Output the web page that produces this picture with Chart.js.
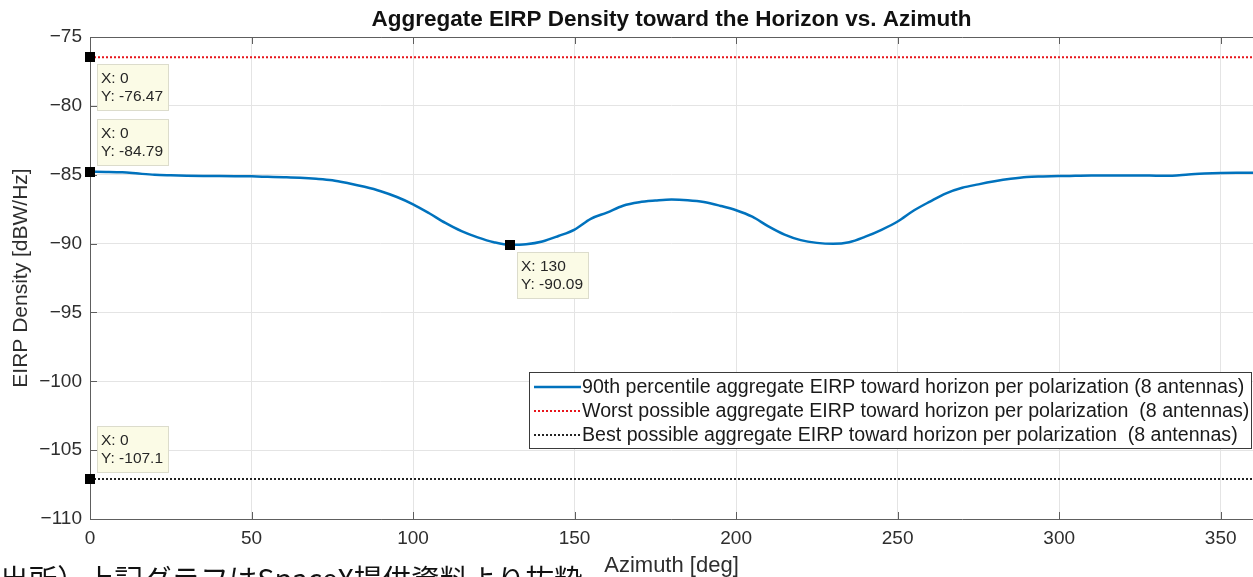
<!DOCTYPE html>
<html>
<head>
<meta charset="utf-8">
<script src="https://cdn.jsdelivr.net/npm/chart.js@4.4.1/dist/chart.umd.min.js"></script>
<style>
  html, body { margin: 0; padding: 0; background: #fff; overflow: hidden; }
  #wrap { position: relative; width: 1253px; height: 577px; }
</style>
</head>
<body>
<div id="wrap"><canvas id="c" width="1253" height="577"></canvas></div>
<script>
// Azimuth samples [deg]
const azimuth = [
  0, 5, 10, 15, 20, 25, 30, 35, 40, 45, 50, 55, 60, 65, 70, 75, 80, 85, 90, 95,
  100, 105, 110, 115, 120, 125, 130, 135, 140, 145, 150, 155, 160, 165, 170, 175,
  180, 185, 190, 195, 200, 205, 210, 215, 220, 225, 230, 235, 240, 245, 250, 255,
  260, 265, 270, 275, 280, 285, 290, 295, 300, 305, 310, 315, 320, 325, 330, 335,
  340, 345, 350, 355, 360
];

// 90th percentile aggregate EIRP density toward the horizon [dBW/Hz]
const eirp90 = [
  -84.79, -84.80, -84.83, -84.92, -85.00, -85.04, -85.07, -85.09, -85.10, -85.11,
  -85.12, -85.15, -85.18, -85.22, -85.29, -85.40, -85.62, -85.88, -86.20, -86.62,
  -87.15, -87.80, -88.50, -89.10, -89.55, -89.90, -90.09, -90.05, -89.85, -89.45,
  -88.98, -88.20, -87.75, -87.25, -87.00, -86.88, -86.80, -86.85, -86.98, -87.25,
  -87.58, -88.05, -88.75, -89.35, -89.75, -89.95, -90.02, -89.90, -89.50, -89.00,
  -88.40, -87.60, -86.95, -86.35, -85.95, -85.70, -85.48, -85.30, -85.17, -85.13,
  -85.10, -85.08, -85.06, -85.05, -85.05, -85.05, -85.07, -85.08, -84.98, -84.92,
  -84.88, -84.86, -84.85
];

// Constant bounds [dBW/Hz]
const worstEirp = -76.47;
const bestEirp = -107.1;

// Axis ticks
const xTicks = [0, 50, 100, 150, 200, 250, 300, 350];
const yTicks = [-75, -80, -85, -90, -95, -100, -105, -110];

// Series labels
const seriesLabels = [
  '90th percentile aggregate EIRP toward horizon per polarization (8 antennas)',
  'Worst possible aggregate EIRP toward horizon per polarization  (8 antennas)',
  'Best possible aggregate EIRP toward horizon per polarization  (8 antennas)'
];

// Data cursors: dataset index, point index, box placement
const dataTips = [
  { ds: 1, idx: 0, place: 'below' },
  { ds: 0, idx: 0, place: 'above' },
  { ds: 0, idx: azimuth.indexOf(130), place: 'below' },
  { ds: 2, idx: 0, place: 'above' }
];

const titleText = 'Aggregate EIRP Density toward the Horizon vs. Azimuth';
const footnote = '出所）上記グラフはSpaceX提供資料より抜粋';

const FONT = '"Liberation Sans", Arial, Helvetica, sans-serif';
const AXIS_COLOR = '#5e5e5e';
const TEXT_COLOR = '#2e2e2e';

const mainSeries = azimuth.map((a, i) => ({ x: a, y: eirp90[i] }));
const worstSeries = azimuth.map(a => ({ x: a, y: worstEirp }));
const bestSeries = azimuth.map(a => ({ x: a, y: bestEirp }));

// Axes box with inward ticks, as MATLAB draws it
const axesBox = {
  id: 'axesBox',
  beforeDatasetsDraw(chart) {
    const { ctx, chartArea: a, scales } = chart;
    ctx.save();
    ctx.strokeStyle = AXIS_COLOR;
    ctx.lineWidth = 1;
    ctx.beginPath();
    ctx.moveTo(a.left + 0.5, a.top + 0.5);
    ctx.lineTo(a.left + 0.5, a.bottom + 0.5);
    ctx.lineTo(a.right, a.bottom + 0.5);
    ctx.moveTo(a.left + 0.5, a.top + 0.5);
    ctx.lineTo(a.right, a.top + 0.5);
    const tl = 7;
    xTicks.forEach(t => {
      const x = Math.round(scales.x.getPixelForValue(t)) + 0.5;
      ctx.moveTo(x, a.bottom); ctx.lineTo(x, a.bottom - tl);
      ctx.moveTo(x, a.top); ctx.lineTo(x, a.top + tl);
    });
    yTicks.forEach(t => {
      const y = Math.round(scales.y.getPixelForValue(t)) + 0.5;
      ctx.moveTo(a.left, y); ctx.lineTo(a.left + tl, y);
    });
    ctx.stroke();
    ctx.restore();
  }
};

// Title centred over the plot area
const plotTitle = {
  id: 'plotTitle',
  afterDraw(chart) {
    const { ctx, chartArea: a } = chart;
    ctx.save();
    ctx.font = 'bold 22.5px ' + FONT;
    ctx.fillStyle = '#111';
    ctx.textAlign = 'center';
    ctx.textBaseline = 'middle';
    ctx.fillText(titleText, (a.left + a.right) / 2, 20);
    ctx.restore();
  }
};

// Legend box inside the axes
const boxLegend = {
  id: 'boxLegend',
  afterDatasetsDraw(chart) {
    const { ctx } = chart;
    const x0 = 529, y0 = 372, w = 722, h = 76, row = 24;
    ctx.save();
    ctx.fillStyle = '#fff';
    ctx.fillRect(x0, y0, w, h);
    ctx.strokeStyle = '#3a3a3a';
    ctx.lineWidth = 1;
    ctx.strokeRect(x0 + 0.5, y0 + 0.5, w, h);
    ctx.font = '19.6px ' + FONT;
    ctx.textBaseline = 'middle';
    ctx.fillStyle = '#1a1a1a';
    chart.data.datasets.forEach((ds, i) => {
      const y = y0 + 15 + i * row;
      ctx.beginPath();
      ctx.strokeStyle = ds.borderColor;
      ctx.lineWidth = ds.borderWidth;
      ctx.setLineDash(ds.borderDash || []);
      ctx.moveTo(x0 + 5, y);
      ctx.lineTo(x0 + 52, y);
      ctx.stroke();
      ctx.setLineDash([]);
      ctx.fillText(ds.label, x0 + 53, y + 1);
    });
    ctx.restore();
  }
};

// Data cursor markers with value boxes
const dataCursors = {
  id: 'dataCursors',
  afterDraw(chart) {
    const { ctx, scales } = chart;
    ctx.save();
    ctx.font = '15.5px ' + FONT;
    dataTips.forEach(tip => {
      const p = chart.data.datasets[tip.ds].data[tip.idx];
      const px = scales.x.getPixelForValue(p.x);
      const py = scales.y.getPixelForValue(p.y);
      const lines = ['X: ' + p.x, 'Y: ' + p.y];
      const tw = Math.max(...lines.map(s => ctx.measureText(s).width));
      const bw = Math.round(tw + 9), bh = 46;
      const bx = Math.round(px) + 7;
      const by = tip.place === 'below' ? Math.round(py) + 7 : Math.round(py) - 7 - bh;
      ctx.fillStyle = '#fbfbe6';
      ctx.fillRect(bx, by, bw, bh);
      ctx.strokeStyle = '#dcdccc';
      ctx.lineWidth = 1;
      ctx.strokeRect(bx + 0.5, by + 0.5, bw, bh);
      ctx.fillStyle = '#262626';
      ctx.textAlign = 'left';
      ctx.textBaseline = 'middle';
      ctx.fillText(lines[0], bx + 4, by + 15);
      ctx.fillText(lines[1], bx + 4, by + 33);
      ctx.fillStyle = '#000';
      ctx.fillRect(Math.round(px) - 5, Math.round(py) - 5, 10, 10);
    });
    ctx.restore();
  }
};

// Source note under the chart
const sourceNote = {
  id: 'sourceNote',
  afterDraw(chart) {
    const { ctx } = chart;
    ctx.save();
    ctx.font = '28.6px "Noto Sans CJK JP", sans-serif';
    ctx.fillStyle = '#111';
    ctx.textAlign = 'left';
    ctx.textBaseline = 'alphabetic';
    ctx.fillText(footnote, 0, 590);
    ctx.restore();
  }
};

const minusSign = v => String(v).replace('-', '\u2212');

new Chart(document.getElementById('c'), {
  type: 'line',
  data: {
    datasets: [
      {
        label: seriesLabels[0], data: mainSeries,
        borderColor: '#0072BD', borderWidth: 2.5, pointRadius: 0,
        tension: 0.4, cubicInterpolationMode: 'monotone', fill: false
      },
      {
        label: seriesLabels[1], data: worstSeries,
        borderColor: '#e8141b', borderWidth: 2, borderDash: [2, 2],
        pointRadius: 0, fill: false
      },
      {
        label: seriesLabels[2], data: bestSeries,
        borderColor: '#222222', borderWidth: 2, borderDash: [2, 2],
        pointRadius: 0, fill: false
      }
    ]
  },
  options: {
    responsive: false,
    animation: false,
    devicePixelRatio: 1,
    layout: { padding: { top: 37, right: 0, bottom: 0, left: 0 } },
    plugins: {
      legend: { display: false },
      title: { display: false },
      tooltip: { enabled: false }
    },
    scales: {
      x: {
        type: 'linear', min: 0, max: 360,
        afterFit(s) { s.height = 58; },
        afterBuildTicks(s) { s.ticks = xTicks.map(v => ({ value: v })); },
        grid: { color: '#e4e4e4', drawTicks: false },
        border: { display: false },
        ticks: { padding: 8, color: TEXT_COLOR, font: { family: FONT, size: 19 }, maxRotation: 0 },
        title: {
          display: true, text: 'Azimuth [deg]', color: TEXT_COLOR,
          font: { family: FONT, size: 22, lineHeight: 1 }, padding: { top: 0, bottom: 0 }
        }
      },
      y: {
        type: 'linear', min: -110, max: -75,
        afterFit(s) { s.width = 90; },
        afterBuildTicks(s) { s.ticks = yTicks.map(v => ({ value: v })); },
        grid: { color: '#e4e4e4', drawTicks: false },
        border: { display: false },
        ticks: { padding: 8, color: TEXT_COLOR, font: { family: FONT, size: 19 }, callback: minusSign },
        title: {
          display: true, text: 'EIRP Density [dBW/Hz]', color: TEXT_COLOR,
          font: { family: FONT, size: 21 }, padding: { top: 9, bottom: 0 }
        }
      }
    }
  },
  plugins: [axesBox, boxLegend, dataCursors, plotTitle, sourceNote]
});
</script>
</body>
</html>
